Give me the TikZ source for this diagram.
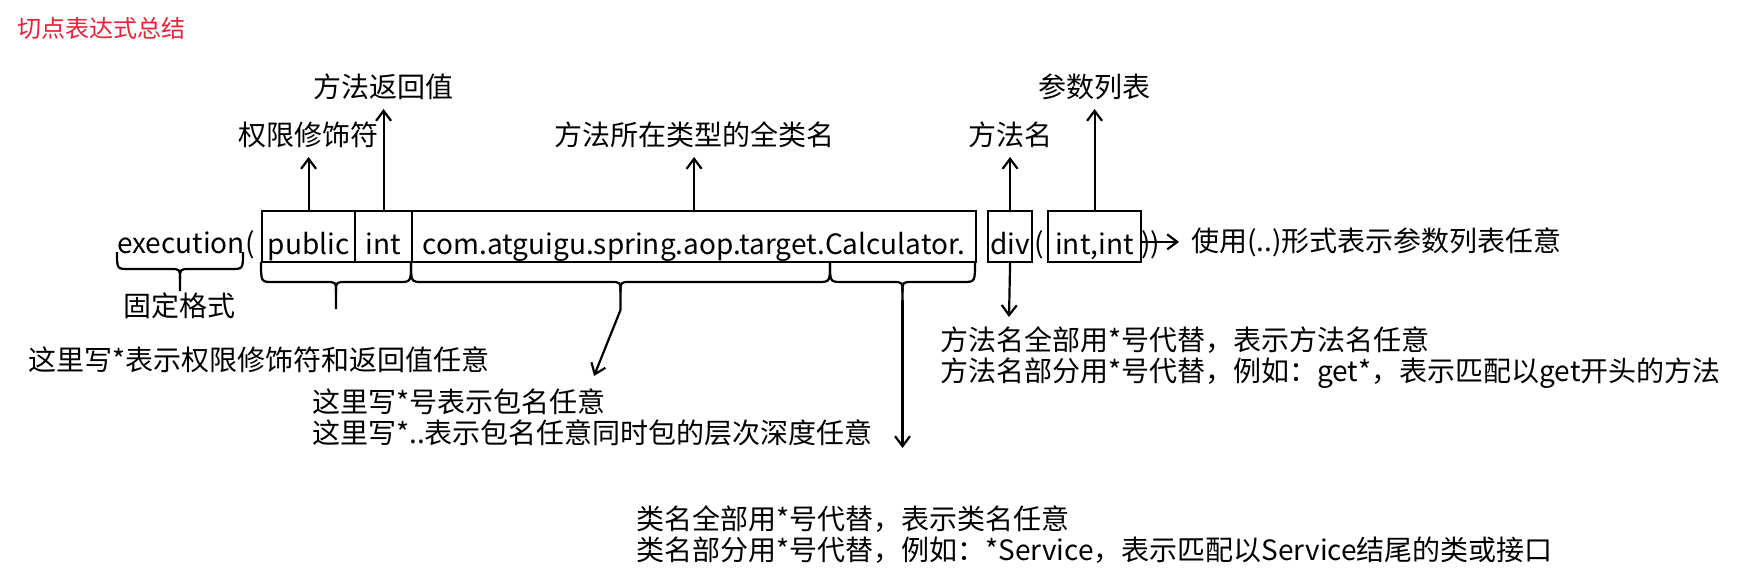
\documentclass[tikz,border=0pt]{standalone}
\usepackage{fontspec}
\setmainfont{Noto Sans CJK SC}
\usetikzlibrary{arrows.meta,calc}
\definecolor{titlered}{RGB}{236,32,52}
\newcommand\diafont{\fontsize{28}{31}\selectfont}
\newcommand\mybrace[5]{%
  \draw[ln] (#1,#3) .. controls (#1,#4) .. ({#1+12},#4) -- ({(#1+#2)/2-10},#4) .. controls ({(#1+#2)/2},#4) .. ({(#1+#2)/2},{#4+10}) -- ({(#1+#2)/2},#5);
  \draw[ln] (#2,#3) .. controls (#2,#4) .. ({#2-12},#4) -- ({(#1+#2)/2+10},#4) .. controls ({(#1+#2)/2},#4) .. ({(#1+#2)/2},{#4+10});
}
\tikzset{
  ln/.style={line width=2.2pt, line join=round},
  arr/.style={ln, -{Straight Barb[length=10pt,width=15pt]}},
  fbox/.style={draw, line width=2.2pt, inner xsep=0pt, inner ysep=0pt, text height=43pt, text depth=8pt, anchor=north west, font=\diafont},
  txt/.style={inner sep=0pt, font=\diafont},
  lbl/.style={inner sep=0pt, text depth=0pt, outer ysep=12pt, anchor=base, font=\diafont},
}
\begin{document}
\begin{tikzpicture}[x=1pt,y=-1pt]
\useasboundingbox (0,0) rectangle (1758,574);
\node[anchor=base west, inner sep=0pt, font=\fontsize{24}{27}\selectfont, text=titlered] (title) at (17,37) {切点表达式总结};

% boxes
\node[fbox, minimum width=93pt] (pub) at (261,210) {public};
\node[fbox, minimum width=57pt] (int) at (354,210) {int};
\node[fbox, minimum width=564pt] (cls) at (411,210) {com.atguigu.spring.aop.target.Calculator.};
\node[fbox, minimum width=44pt] (div) at (987,210) {div};
\node[fbox, minimum width=93pt] (args) at (1047,210) {int,int};

% plain text on the row
\node[txt, anchor=base west] (exec) at (117,253) {execution};
\node[txt, anchor=base west] (lp1) at (exec.base east) {(};
\node[txt, anchor=base] (lp2) at (1039,253) {(};
\node[txt, anchor=base west] (rp) at (1141,253) {))};
\node[txt, anchor=base west] (anyn) at (1191,251) {使用(..)形式表示参数列表任意};
\draw[arr, shorten >=12pt] (args.east |- anyn.west) -- (anyn.west);

% labels above
\node[lbl] (lperm) at (pub.north |- 0,145) {权限修饰符};
\node[lbl] (lret) at (int.north |- 0,97) {方法返回值};
\node[lbl] (lcls) at (cls.north |- 0,145) {方法所在类型的全类名};
\node[lbl] (lmeth) at (div.north |- 0,145) {方法名};
\node[lbl] (lpar) at (args.north |- 0,97) {参数列表};
\draw[arr] (pub.north) -- (lperm.south);
\draw[arr] (int.north) -- (lret.south);
\draw[arr] (cls.north) -- (lcls.south);
\draw[arr] (div.north) -- (lmeth.south);
\draw[arr] (args.north) -- (lpar.south);

% braces
\mybrace{117}{243}{252}{269}{291}
\mybrace{261}{411}{262}{282}{309}
\mybrace{411}{830}{262}{282}{310}
\mybrace{830}{975}{262}{282}{300}
\coordinate (tpkg) at (620.5,310);
\coordinate (tcls) at (902.5,300);
\coordinate (pkgend) at (594,376);
\coordinate (clsend) at (902.5,448);
\coordinate (divend) at (1009,317);
\draw[arr] (tpkg) -- (pkgend);
\draw[arr] (tcls) -- (clsend);
\draw[arr] (div.south) -- (divend);

% texts below
\node[txt, anchor=base] (fixed) at (179,316) {固定格式};
\node[txt, anchor=base west] (anymod) at (28,370) {这里写*表示权限修饰符和返回值任意};
\node[txt, anchor=base west] (pkg1) at (312,412) {这里写*号表示包名任意};
\node[txt, anchor=base west] (pkg2) at (312,443) {这里写*..表示包名任意同时包的层次深度任意};
\node[txt, anchor=base west] (meth1) at (940,350) {方法名全部用*号代替，表示方法名任意};
\node[txt, anchor=base west] (meth2) at (940,381) {方法名部分用*号代替，例如：get*，表示匹配以get开头的方法};
\node[txt, anchor=base west] (cls1) at (636,529) {类名全部用*号代替，表示类名任意};
\node[txt, anchor=base west] (cls2) at (636,560) {类名部分用*号代替，例如：*Service，表示匹配以Service结尾的类或接口};
\end{tikzpicture}
\end{document}
